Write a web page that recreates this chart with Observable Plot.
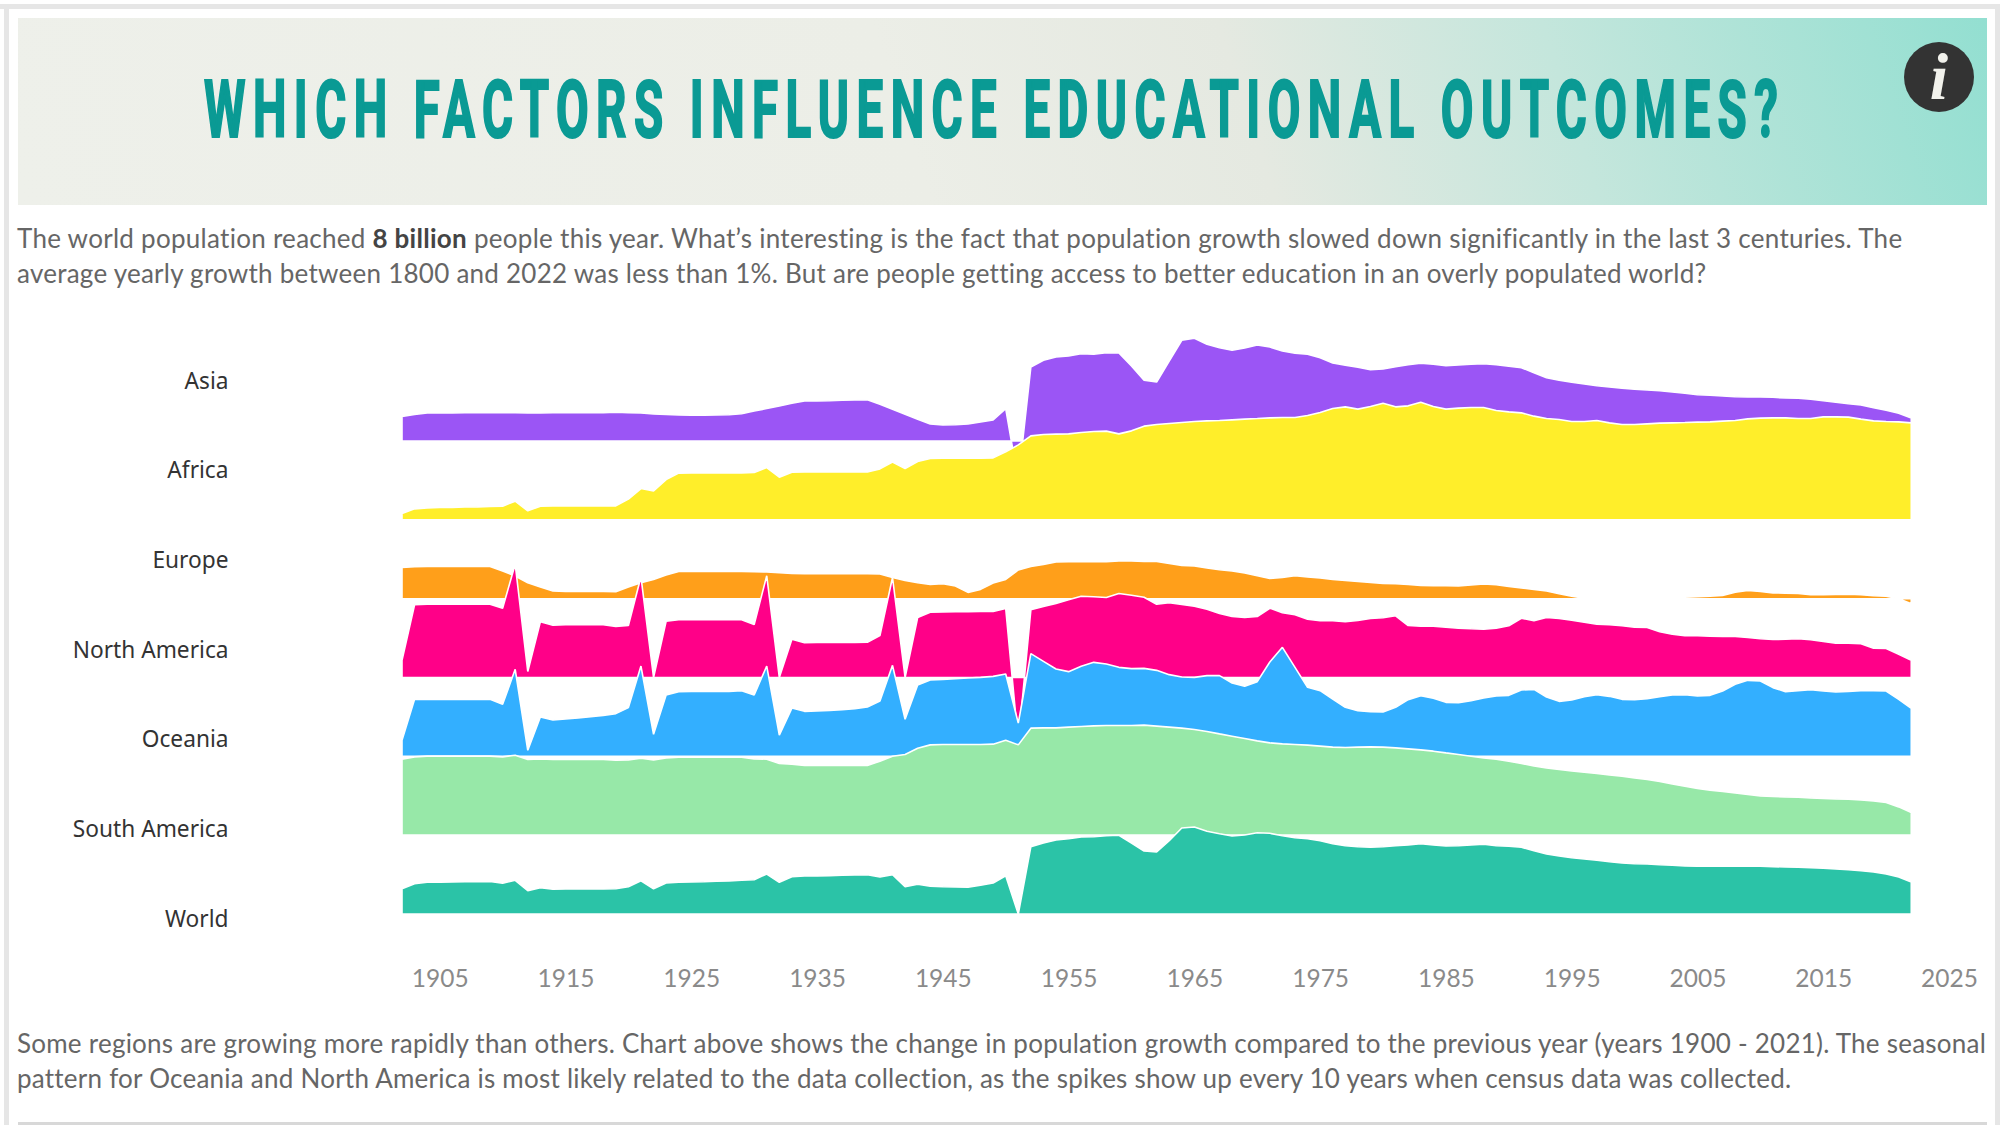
<!DOCTYPE html>
<html>
<head>
<meta charset="utf-8">
<script src="https://cdn.jsdelivr.net/npm/d3@7"></script>
<script src="https://cdn.jsdelivr.net/npm/@observablehq/plot@0.6"></script>
<style>
html,body{margin:0;padding:0;background:#fff;width:2000px;height:1125px;overflow:hidden}
.bar{position:absolute;background:#e6e6e6}
#head{position:absolute;left:18px;top:18px;width:1969px;height:187px;background:linear-gradient(72deg,#eef0ea 0%,#eceee7 45%,#e5e9e1 62%,#c4e6dc 78%,#93dfd1 100%)}
#head svg{position:absolute;left:-18px;top:-18px;overflow:visible}
.para{position:absolute;left:17px;font-family:Lato,sans-serif;font-size:26px;letter-spacing:0.24px;color:#666;white-space:nowrap;line-height:35px}
.para b{color:#444;font-weight:700}
#chart{position:absolute;left:0;top:301px}
</style>
</head>
<body>
<div class="bar" style="left:0;top:4px;width:2000px;height:5px"></div>
<div class="bar" style="left:4px;top:4px;width:5px;height:1121px"></div>
<div class="bar" style="left:1995px;top:4px;width:5px;height:1121px"></div>
<div class="bar" style="left:18px;top:1122px;width:1969px;height:3px;background:#d8d8d8"></div>
<div id="head">
<svg width="2000" height="210">
<g transform="translate(204,137) scale(0.6,1)">
<text x="0" y="0" textLength="2623" lengthAdjust="spacing" font-family="Roboto,'Liberation Sans',sans-serif" font-weight="700" font-size="79" fill="#0a9a94" stroke="#0a9a94" stroke-width="2.2">WHICH FACTORS INFLUENCE EDUCATIONAL OUTCOMES?</text>
</g>
<circle cx="1939" cy="77" r="35" fill="#333"></circle>
<text x="1939" y="99" text-anchor="middle" font-family="'Liberation Serif',serif" font-style="italic" font-weight="700" font-size="66" fill="#f2f2ec">i</text>
</svg>
</div>
<div class="para" style="top:221px;letter-spacing:0.28px">The world population reached <b>8 billion</b> people this year. What’s interesting is the fact that population growth slowed down significantly in the last 3 centuries. The</div>
<div class="para" style="top:256px;letter-spacing:0.25px">average yearly growth between 1800 and 2022 was less than 1%. But are people getting access to better education in an overly populated world?</div>
<div id="chart"></div>
<div class="para" style="top:1026px">Some regions are growing more rapidly than others. Chart above shows the change in population growth compared to the previous year (years 1900 - 2021). The seasonal</div>
<div class="para" style="top:1061px">pattern for Oceania and North America is most likely related to the data collection, as the spikes show up every 10 years when census data was collected.</div>
<script>
const regions = ["Asia","Africa","Europe","North America","Oceania","South America","World"];
const colors = ["#9b55f5","#ffee2a","#ff9f1a","#ff0088","#33afff","#97e8a8","#2bc3a7"];
const tickYears = [1905,1915,1925,1935,1945,1955,1965,1975,1985,1995,2005,2015,2025];
const firstYear = 1902;

// Change versus previous year, one reading per year from 1902
const asia = [24.5,26.5,28,28,28,28.2,28.2,28.2,28.2,
28.2,28,28,28.2,28.2,28.2,28.2,28.4,28.7,28.4,
28,27,26.5,26,25.8,25.8,26,26.2,27.2,30,
32.5,35,37.7,40,40,40.2,40.7,41,41.3,36.7,
31.7,26.7,21.7,17,16,16.3,17,19,21,32.3,
-40,74,80.7,84,85,87.3,86.7,88.3,88,75,
60.7,59,80,100.7,102.7,96.7,93.3,90.7,93,96,
94,90,87.7,86.7,83.3,78,75.7,73.7,71.3,72,
74.3,76.3,77.7,76.7,75.3,76,76.7,77.3,76.3,74.7,
73.3,68.3,63.3,60.7,58.7,57,55.3,54,52.7,51.7,
51,50.3,49,47.7,46.3,45.7,45,44.3,44,44,
43.7,43,42.7,41.7,40.3,38.7,37.3,36,33.3,30.7,
27.7,23];
const africa = [6.3,11,12,12.3,12.5,12.8,13,13.3,13.7,
18.7,9,13.7,14,14,14,14,14,14,20.7,
31.3,29,40.3,46.7,47,47,47,47,47,47.3,
52.3,42.7,47.7,48,48,48,48,48,48,51,
57.7,51.3,58.3,61.3,61.7,61.7,61.7,61.7,62,68,
75,84,85.3,85.7,86,87.3,88.3,88.7,86,89,
93.7,95.3,96.3,97.3,98.3,99,99.3,100,100.7,101.3,
102,102.3,102.3,104.3,107.3,111.3,113,110.7,113.3,116.7,
113,114,117.7,113.3,110.7,111.7,112.3,112.3,109.3,108,
107,103.7,101.3,100.3,98.3,98.3,99.3,97,95.3,95.3,
96,96.7,97,97.3,97.7,98,98.7,99.3,101,101.7,
102,102,101.3,101.3,103,103,102.7,100.7,99,98.3,
98,97,95].slice(0,121);
const europe = [31.3,32,32.3,32.3,32.3,32.3,32.3,32.3,27.7,
22.7,16,11.7,7.7,7.3,7.3,7.3,7.3,7,11.7,
16,19.3,23.7,27.3,27.3,27.3,27.3,27.3,27.3,27,
26.7,26,25.3,25,25,25,25,25,25,24.7,
21.3,18.3,16,14.3,15,12.7,6.3,9.3,15.7,19.3,
28.7,32.3,34.3,36.7,37,37,37,37,37.7,37.7,
37.3,37.3,35.3,33.3,32.7,30.7,29,27.7,25.7,23,
20.3,21.3,23,21.7,20.7,19.3,18.3,17.3,16.3,15.3,
15,14.3,13.3,13,13,12.7,13.7,14.7,14,12.3,
10.7,9.3,7.7,5,2.5,0.5,0,0,0,0,
0,0,0.8,1.6,2.1,2.6,3.2,6.5,8.2,7.2,
5.8,5.5,5.2,4,4,4.3,4.6,4,3,2.5,
0,-5];
const northAmerica = [17.3,72.7,73.3,73.3,73.3,73.3,73.3,73.3,69.3,
113.3,6,55.7,52.3,52.7,52.7,52.7,52.7,51,52,
100.7,0,56.3,57.7,57.7,57.7,57.7,57.7,57.7,53,
101.7,0,38.3,34.7,35,35,35,35,35.3,42,
100,0,60,65.3,65.5,65.7,65.8,66,66,69,
-65,67.7,71,74,77.7,81.3,80.7,80,84,82.3,
80.3,73.3,74.7,73,71.3,68.3,64,61,60,61,
69.3,64.7,62.7,58.3,56.7,56.7,55.7,57,59,59.7,
61.7,52,51.3,51.3,50.3,49.3,48.7,48.3,49.3,51.7,
59.3,56.7,60,59,57.3,55.3,53.3,52.7,51.7,50.3,
50,45.7,43.3,41.7,41.7,41.3,41,41,40,38.7,
38,38.3,38.7,37.7,36,34.3,34.3,33.7,29.3,29,
23.3,17.3];
const oceania = [16,57,57,57,57,57,57,57,52,
87,6,39.3,36.3,37.3,38.3,39.7,41,42.7,48.7,
90.3,22,61.3,64.7,65,65,65,65,65.7,61.3,
90.3,21.3,48.3,45,45.3,46,46.7,47.7,49.3,55.3,
91,37,71.3,76.3,77,77.7,78.3,79,80,82.3,
33.3,102.7,95,87.3,84.7,90,94,92.3,89,87.7,
88,86,81.7,79.3,79,80.7,80.7,73.3,70,74.7,
94.3,109,89,69,65.7,57.3,49,45.7,44.7,44.3,
49,56.7,60.7,58,54,53.7,55.7,58.3,60.3,61,
66.3,67,59.3,55,56.3,59.7,61.7,60,57,56.7,
57.7,59.7,61.3,61.7,60.3,61,65.3,72,76,75.3,
68.7,64.7,65.7,66.7,65.3,64.3,65,65.7,65.7,65.3,
57,48];
const southAmerica = [76,78.3,79,79,79,79,79,79,78.3,
80,75.7,76.3,75.7,75.7,75.7,75.7,75.7,75,75.3,
77,75.3,77.3,78,78,78,78,78,78,76.3,
76,71.7,71,69.7,69.7,69.7,69.7,69.7,69.7,74,
79,80.7,87,90.3,90.7,90.7,90.7,90.7,91,95,
90.3,107,107.3,107.3,108,108.7,109.3,109.7,109.7,109.7,
110,109,108,107,105.7,103.7,101.3,99,96.7,94.3,
92.3,91.3,90.7,90,89,88,87.7,88,88.3,88,
87.3,86.3,85.3,84,82.3,80.7,79,77.3,76,74,
71.7,69.3,67.3,65.7,64.3,63,61.7,60.3,59,57.3,
55.7,53.7,51.3,49,46.7,45,43.7,42.3,40.7,39.3,
38.7,38.3,38,37.3,36.7,36.3,36,35.3,34.3,32.7,
28.3,22.7];
const world = [25.3,30.3,31.7,31.8,32,32.2,32.4,32.5,30.7,
33.7,23.3,26.3,24.7,25,25,25,25,25.3,27.3,
33.3,25.3,31,31.7,32,32.3,32.7,33,33.7,34.3,
40,31.7,37.3,38,38,38.4,38.7,39,39.3,37,
39.3,27.3,29.7,27.7,27.3,27,26.7,28.7,31,38.3,
0,67.3,71,74,75.3,77,77.3,78.3,78.7,71,
63,62,73.3,86,87,82.7,80.3,78,79,81.3,
80.7,78.3,76.3,75.3,73.3,70.3,68.3,67.3,66.7,67.3,
68.3,69,70.3,69,68,68.3,69,69.7,68.3,67.7,
66.7,63.3,60,58,56.3,55,53.7,52.3,51,50.3,
50,49.3,48.7,48,47.7,47.7,47.7,47.7,48,47.7,
47.3,47,46.7,46.3,45.7,45,44.3,43.3,42,40,
37,32];
const seriesValues = [asia,africa,europe,northAmerica,oceania,southAmerica,world];

const rowStep = 78.83;
const labelStep = 89.67;
const n = regions.length;

const marks = [];
seriesValues.forEach((vals,i)=>{
  const off = (n-1-i)*rowStep;
  const rows = vals.map((v,k)=>({year:firstYear+k,v}));
  marks.push(Plot.areaY(rows,{x:"year",y1:()=>off,y2:d=>off+d.v,fill:colors[i],stroke:"#fff",strokeWidth:1.6,strokeLinejoin:"miter"}));
});
marks.push(Plot.text(regions,{
  text:d=>d,
  x:firstYear,
  y:(d,i)=>-5+(n-1-i)*labelStep,
  dx:-174,
  textAnchor:"end",
  fontSize:22.7,
  fill:"#333",
  fontFamily:"'Noto Sans',sans-serif"
}));
marks.push(Plot.axisX({ticks:tickYears,tickSize:0,tickPadding:55,tickFormat:d=>String(d),fontSize:24.5,fill:"#8a8a8a",label:null,fontFamily:"Lato,sans-serif"}));

const chart = Plot.plot({
  width:2000,height:720,
  marginLeft:402,marginRight:51,marginTop:0,marginBottom:107,
  x:{domain:[firstYear,2025],axis:null},
  y:{domain:[0,613],axis:null},
  style:{background:"transparent",overflow:"visible"},
  marks
});
document.getElementById("chart").appendChild(chart);
</script>
</body>
</html>
